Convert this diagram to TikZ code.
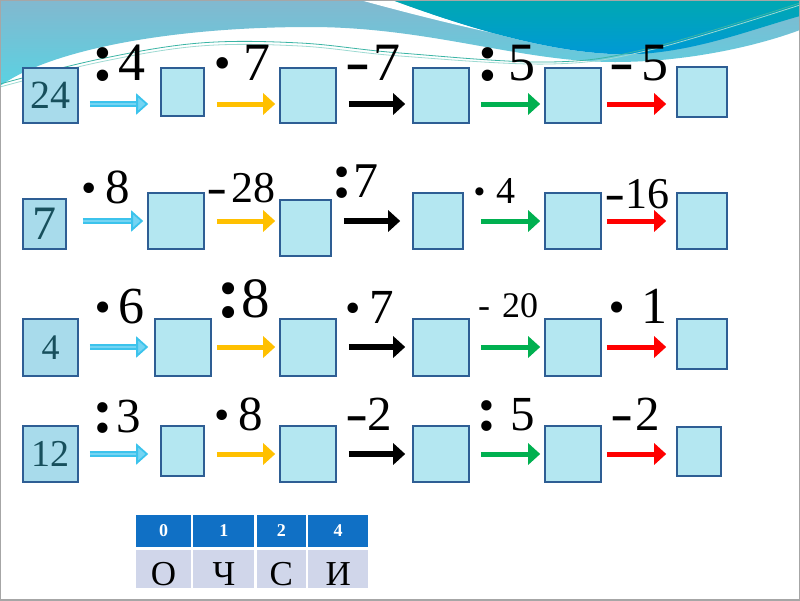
\documentclass[tikz,border=0pt]{standalone}
\usepackage{fontspec}
\setmainfont{Liberation Serif}
\usepackage{graphicx}
\usetikzlibrary{arrows.meta, positioning}

\definecolor{boxfill}{HTML}{B4E7F1}
\definecolor{boxline}{HTML}{2E5E94}
\definecolor{startfill}{HTML}{A8DBEB}
\definecolor{starttext}{HTML}{174F5C}
\definecolor{arrowcyan}{HTML}{3CC3EC}
\definecolor{cyanlight}{HTML}{74D4F3}
\definecolor{arrowyellow}{HTML}{FFC000}
\definecolor{arrowgreen}{HTML}{00B050}
\definecolor{arrowred}{HTML}{FF0000}
\definecolor{headblue}{HTML}{1070C5}
\definecolor{letterbg}{HTML}{D0D6EA}
\definecolor{bandtop}{HTML}{82B8CF}
\definecolor{bandbot}{HTML}{5AD2E2}
\definecolor{tealtop}{HTML}{00A8B2}
\definecolor{tealbot}{HTML}{0098D8}
\definecolor{swoosh}{HTML}{3BB5A5}

\newcommand{\opdiv}{\scalebox{1.3}{\textbf{:}}}
\newcommand{\opmul}{\raisebox{-0.29em}{\scalebox{1.8}{·}}}
\newcommand{\opsub}{\raisebox{-0.05em}{\scalebox{0.7}[1.2]{\textbf{–}}}}

\begin{document}
\begin{tikzpicture}[x=1pt, y=-1pt,
  box/.style={draw=boxline, fill=boxfill, line width=1.6pt, inner sep=0pt, minimum width=56pt, minimum height=56pt},
  startbox/.style={box, fill=startfill, text=starttext},
  oplabel/.style={anchor=base west, inner sep=0pt, font=\fontsize{#1}{#1}\selectfont},
  arrow/.style={line width=5pt, -{Triangle[length=12pt, width=21pt]}},
  arrcyan/.style={line width=1.8pt, draw=arrowcyan, double=cyanlight, double distance=1.6pt, -{Triangle[length=12pt, width=21pt, fill=cyanlight]}, shorten <=11pt, shorten >=12pt},
  arryellow/.style={arrow, draw=arrowyellow, shorten <=12pt, shorten >=4pt},
  arrblack/.style={arrow, draw=black, line width=6pt, shorten <=12pt, shorten >=7pt},
  arrgreen/.style={arrow, draw=arrowgreen, shorten <=11pt, shorten >=4pt},
  arrred/.style={arrow, draw=arrowred, shorten <=5pt, shorten >=10pt},
  head/.style={fill=headblue, text=white, inner sep=0pt, minimum height=32pt, font=\bfseries\fontsize{18}{18}\selectfont},
  letter/.style={fill=letterbg, inner sep=0pt, minimum height=38pt, text height=33pt, text depth=0pt, font=\fontsize{35}{35}\selectfont},
]
\useasboundingbox (0,0) rectangle (800,600);
\fill[white] (0,0) rectangle (800,600);

% top band
\shade[top color=bandtop, bottom color=bandbot] (0,0) -- (800,0) -- (800,30) .. controls (760,45) and (690,62) .. (615,62) .. controls (520,62) and (430,27) .. (310,27) .. controls (170,27) and (50,50) .. (0,86) -- cycle;
\fill[white] (360,0) -- (392,0) .. controls (460,25) and (560,58) .. (640,54) .. controls (560,52) and (440,22) .. (360,0) -- cycle;
\shade[top color=tealtop, bottom color=tealbot] (392,0) -- (800,0) -- (800,16) .. controls (750,30) and (700,50) .. (640,54) .. controls (560,58) and (460,25) .. (392,0) -- cycle;
\draw[swoosh, line width=0.8pt] plot[smooth, tension=0.6] coordinates {(0,84) (100,59) (200,43) (300,43) (400,53) (550,62) (650,48) (800,3)};
\draw[swoosh!50, line width=0.8pt] plot[smooth, tension=0.6] coordinates {(0,87) (100,62) (200,46) (300,46) (400,56) (550,64) (650,50) (800,5)};

\coordinate (ya) at (0,104);
\coordinate (yb) at (0,221);
\coordinate (yc) at (0,347);
\coordinate (yd) at (0,454);

% row 1
\node[startbox, minimum width=55pt, minimum height=55pt, font=\fontsize{40}{40}\selectfont] (a0) at (50.5,95.5) {24};
\node[box, minimum width=43pt, minimum height=48pt] (a1) at (182.5,92) {};
\node[box, minimum height=55pt] (a2) at (308,95.5) {};
\node[box, minimum height=55pt] (a3) at (441,95.5) {};
\node[box, minimum height=55pt] (a4) at (573,95.5) {};
\node[box, minimum width=50pt, minimum height=50pt] (a5) at (702,92) {};
\draw[arrcyan] (a0.east |- ya) -- (a1.west |- ya);
\draw[arryellow] (a1.east |- ya) -- (a2.west |- ya);
\draw[arrblack] (a2.east |- ya) -- (a3.west |- ya);
\draw[arrgreen] (a3.east |- ya) -- (a4.west |- ya);
\draw[arrred] (a4.east |- ya) -- (a5.west |- ya);
\node[oplabel=54] (l11) at (91.5,80) {\opdiv\hspace{3pt}4};
\node[oplabel=54] (l12) at (206,80) {\opmul\hspace{5pt}7};
\node[oplabel=54] (l13) at (348,80) {\opsub\hspace{6.5pt}7};
\node[oplabel=54] (l14) at (476.5,80) {\opdiv\hspace{8.5pt}5};
\node[oplabel=54] (l15) at (612,80) {\opsub\hspace{10.5pt}5};

% row 2
\node[startbox, minimum width=43pt, minimum height=50pt, font=\fontsize{48}{48}\selectfont] (b0) at (44.5,224) {7};
\node[box] (b1) at (176,221) {};
\node[box, minimum width=51pt] (b2) at (305.5,228) {};
\node[box, minimum width=50pt] (b3) at (438,221) {};
\node[box] (b4) at (573,221) {};
\node[box, minimum width=50pt] (b5) at (702,221) {};
\draw[arrcyan, shorten <=16pt, shorten >=4pt] (b0.east |- yb) -- (b1.west |- yb);
\draw[arryellow] (b1.east |- yb) -- (b2.west |- yb);
\draw[arrblack, shorten >=12pt] (b2.east |- yb) -- (b3.west |- yb);
\draw[arrgreen, shorten <=17pt] (b3.east |- yb) -- (b4.west |- yb);
\draw[arrred] (b4.east |- yb) -- (b5.west |- yb);
\node[oplabel=49] (l21) at (74.5,203) {\opmul\hspace{1pt}8};
\node[oplabel=44] (l22) at (209,202) {\opsub\hspace{7pt}28};
\node[oplabel=50] (l23) at (331,197) {\opdiv\hspace{1pt}7};
\node[oplabel=38] (l24) at (468.5,203) {\opmul\hspace{5pt}4};
\node[oplabel=44] (l25) at (607,208) {\opsub\hspace{3pt}16};

% row 3
\node[startbox, minimum width=55pt, minimum height=57pt, font=\fontsize{36}{36}\selectfont] (c0) at (50.5,347.5) {4};
\node[box, minimum height=57pt] (c1) at (183,347.5) {};
\node[box, minimum height=57pt] (c2) at (308,347.5) {};
\node[box, minimum height=57pt] (c3) at (441,347.5) {};
\node[box, minimum height=57pt] (c4) at (573,347.5) {};
\node[box, minimum width=50pt, minimum height=50pt] (c5) at (702,344) {};
\draw[arrcyan, shorten >=6pt] (c0.east |- yc) -- (c1.west |- yc);
\draw[arryellow, shorten <=5pt] (c1.east |- yc) -- (c2.west |- yc);
\draw[arrblack] (c2.east |- yc) -- (c3.west |- yc);
\draw[arrgreen] (c3.east |- yc) -- (c4.west |- yc);
\draw[arrred] (c4.east |- yc) -- (c5.west |- yc);
\node[oplabel=52] (l31) at (87.5,323) {\opmul6};
\node[oplabel=57] (l32) at (216.5,317) {\opdiv8};
\node[oplabel=49] (l33) at (338.5,323) {\opmul\hspace{1pt}7};
\node[oplabel=36] (l34) at (478,317) {-\hspace{12pt}20};
\node[oplabel=52] (l35) at (601.5,323) {\opmul\hspace{9pt}1};

% row 4
\node[startbox, minimum width=55pt, font=\fontsize{38}{38}\selectfont] (d0) at (50.5,454) {12};
\node[box, minimum width=43pt, minimum height=50pt] (d1) at (182.5,451) {};
\node[box] (d2) at (308,454) {};
\node[box] (d3) at (441,454) {};
\node[box] (d4) at (573,454) {};
\node[box, minimum width=44pt, minimum height=49pt] (d5) at (699,451.5) {};
\draw[arrcyan] (d0.east |- yd) -- (d1.west |- yd);
\draw[arryellow] (d1.east |- yd) -- (d2.west |- yd);
\draw[arrblack] (d2.east |- yd) -- (d3.west |- yd);
\draw[arrgreen] (d3.east |- yd) -- (d4.west |- yd);
\draw[arrred] (d4.east |- yd) -- (d5.west |- yd);
\node[oplabel=49] (l41) at (92.5,432) {\opdiv\hspace{2.5pt}3};
\node[oplabel=49] (l42) at (207.5,430) {\opmul\hspace{1pt}8};
\node[oplabel=49] (l43) at (348,430) {\opsub\hspace{1.5pt}2};
\node[oplabel=49] (l44) at (476.5,430) {\opdiv\hspace{13pt}5};
\node[oplabel=49] (l45) at (613,430) {\opsub\hspace{4.5pt}2};

% key table
\node[head, minimum width=55pt] (h0) at (163.5,531) {0};
\node[head, right=2pt of h0, minimum width=61pt] (h1) {1};
\node[head, right=2pt of h1, minimum width=49pt] (h2) {2};
\node[head, right=2pt of h2, minimum width=60pt] (h3) {4};
\node[letter, below=3pt of h0, minimum width=55pt] (t0) {О};
\node[letter, below=3pt of h1, minimum width=61pt] (t1) {Ч};
\node[letter, below=3pt of h2, minimum width=49pt] (t2) {С};
\node[letter, below=3pt of h3, minimum width=60pt] (t3) {И};

\draw[gray!70, line width=2pt] (0,0) rectangle (800,600);
\end{tikzpicture}
\end{document}
